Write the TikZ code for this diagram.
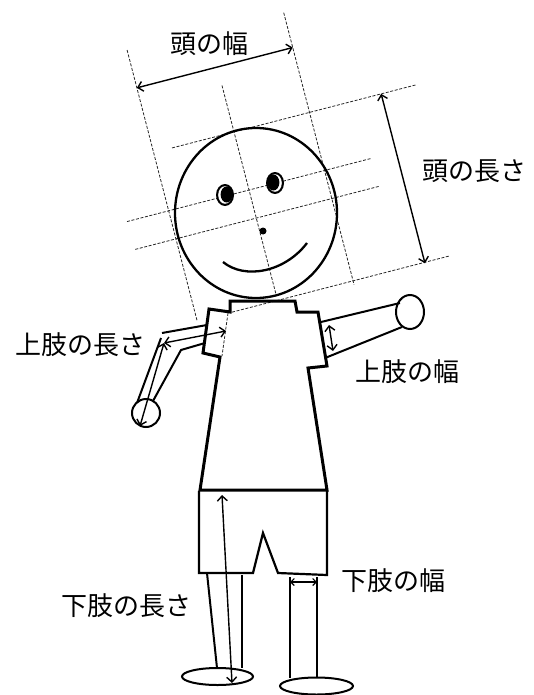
\documentclass[tikz,border=0pt]{standalone}
\usepackage{fontspec}
\usepackage{tikz}
\usetikzlibrary{arrows.meta}
\newfontfamily\jpfont{Noto Sans CJK JP}

\tikzset{
    lbl/.style={font=\jpfont\fontsize{26}{26}\selectfont, inner sep=0pt},
    guide/.style={line width=0.8pt, dash pattern=on 3pt off 1.6pt, black!85},
    dim/.style={<->, line width=1.4pt, >={Straight Barb[length=5pt,width=10pt]}},
    smalldim/.style={<->, line width=1.1pt, >={Straight Barb[length=3.5pt,width=7pt]}},
    shirt/.style={line width=3pt, line join=miter},
    limb/.style={line width=2pt},
}

\begin{document}
\begin{tikzpicture}[x=1pt,y=-1pt]
    \useasboundingbox (0,0) rectangle (533,695);

    % head with its measuring frame
    \begin{scope}[shift={(256,213)},rotate=14.5]
        \draw[guide] (-84,-190) -- (-84,89);
        \draw[guide] (-1,-132) -- (-1,85);
        \draw[guide] (77,-187) -- (77,94);
        \draw[guide] (-65,-84) -- (188,-84);
        \draw[guide] (-127,-24) -- (126,-24);
        \draw[guide] (-126,5) -- (126,5);
        \draw[guide] (-48,90) -- (177,90);
        \coordinate (hw1) at (-84,-151);
        \coordinate (hw2) at (77,-151);
        \coordinate (hl1) at (151,-84);
        \coordinate (hl2) at (151,91);
    \end{scope}
    \draw[line width=2.3pt] (256,213) ellipse (81 and 85);

    \fill (225,195) ellipse (9 and 11);
    \fill[white] (225,195) ellipse (6.8 and 8.8);
    \fill (226.6,194.5) ellipse (6 and 8);
    \fill (275,183) ellipse (9 and 11);
    \fill[white] (275,183) ellipse (6.8 and 8.8);
    \fill (273.4,182.5) ellipse (6 and 8);
    \fill (263,231) circle (3.5);
    \draw[line width=2.3pt] (223,262) .. controls (245,280) and (285,272) .. (307,243);

    % shirt and shorts
    \draw[shirt] (230,301) -- (295,301) -- (297,312) -- (318,312) -- (327,366) -- (308,368)
        -- (327,490) -- (200,490) -- (220,357) -- (203,353) -- (209,309) -- (230,312) -- cycle;
    \draw[line width=2.2pt, line join=miter] (199,491) -- (199,573) -- (253,573) -- (263,533)
        -- (278,573) -- (327,575) -- (327,491);
    \draw[guide] (228,313) -- (222,356);

    % arms
    \draw[limb] (207,325) -- (162,333);
    \draw[limb] (161,338) -- (137,403);
    \draw[limb] (205,343) -- (181,350) -- (153,401);
    \draw[limb] (146,413) circle (14);
    \draw[limb] (321,322) -- (400,303);
    \draw[limb] (325,358) -- (402,327);
    \draw[limb] (410,312) ellipse (14 and 17);

    % legs and feet
    \draw[limb] (207,573) -- (217,668);
    \draw[limb] (242,575) -- (242,668);
    \draw[limb] (217.5,676.5) ellipse (35.5 and 8.5);
    \draw[limb] (290,577) -- (290,678);
    \draw[limb] (317,577) -- (317,677);
    \draw[limb] (316.5,686) ellipse (36.5 and 8.5);

    % measurements
    \coordinate (sh) at (226,331);
    \coordinate (el) at (164,343);
    \coordinate (wr) at (140,426);
    \coordinate (aw1) at (329,325);
    \coordinate (aw2) at (333,351);
    \coordinate (ll1) at (222,495);
    \coordinate (ll2) at (232,683);
    \coordinate (lw1) at (290,582);
    \coordinate (lw2) at (317,582);

    \draw[dim] (hw1) -- (hw2);
    \draw[dim] (hl1) -- (hl2);
    \draw[dim] (sh) -- (el);
    \draw[dim] (el) -- (wr);
    \draw[dim] (aw1) -- (aw2);
    \draw[dim] (ll1) -- (ll2);
    \draw[smalldim] (lw1) -- (lw2);

    \node[lbl] (headw) at (209,44) {頭の幅};
    \node[lbl] (headl) at (474,171) {頭の長さ};
    \node[lbl] (arml) at (80,345) {上肢の長さ};
    \node[lbl] (armw) at (407,372) {上肢の幅};
    \node[lbl] (legl) at (126,606) {下肢の長さ};
    \node[lbl] (legw) at (393,581) {下肢の幅};
\end{tikzpicture}
\end{document}
